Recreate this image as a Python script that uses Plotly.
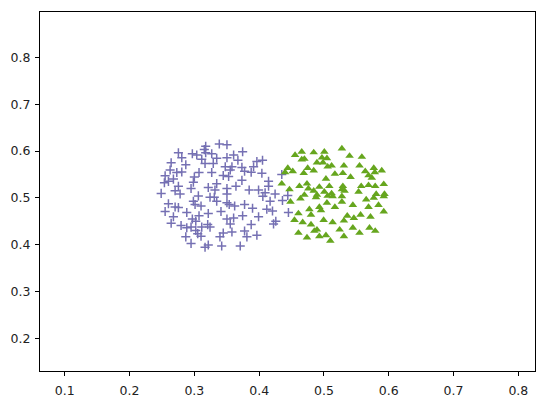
import plotly.graph_objects as go

# Purple "+" cluster
purple_x = [0.3385, 0.3175, 0.3154, 0.2754, 0.2969, 0.3037, 0.3175, 0.3268, 0.2806, 0.3114,
            0.3345, 0.2642, 0.2868, 0.3165, 0.3292, 0.2626, 0.2729, 0.2806, 0.3072, 0.3268,
            0.2549, 0.3000, 0.3446, 0.2677, 0.2600, 0.2538, 0.2985, 0.3345, 0.2754, 0.2949,
            0.3215, 0.3318, 0.2703, 0.2488, 0.2780, 0.3062,
            0.3503, 0.3745, 0.3606, 0.3503, 0.3672, 0.4052, 0.3965, 0.3477, 0.3580, 0.3734,
            0.3914, 0.3554, 0.3775, 0.3877, 0.4042, 0.3529, 0.3734, 0.4145, 0.4145, 0.3642,
            0.3503, 0.3846, 0.3991, 0.4092, 0.4246, 0.3503, 0.4349, 0.4442,
            0.3242, 0.3308, 0.3345, 0.2985, 0.2600, 0.2703, 0.2754, 0.3011, 0.3103, 0.2549,
            0.2883, 0.3411, 0.3215, 0.2677, 0.3072, 0.2969, 0.3022, 0.2642, 0.2795, 0.2883,
            0.2949, 0.3114, 0.3206, 0.3242, 0.3022, 0.3052, 0.3103, 0.3446, 0.3395, 0.2868,
            0.2949, 0.3215, 0.3165, 0.3422,
            0.4057, 0.4360, 0.4169, 0.3503, 0.3538, 0.3622, 0.3775, 0.3898, 0.4118, 0.4206,
            0.4452, 0.3745, 0.3991, 0.3606, 0.3503, 0.3554, 0.4257, 0.4222, 0.3877, 0.3775,
            0.3580, 0.3811, 0.3965, 0.3708]
purple_y = [0.6152, 0.6104, 0.6033, 0.5965, 0.5944, 0.5917, 0.5965, 0.5944, 0.5860, 0.5825,
            0.5846, 0.5750, 0.5708, 0.5735, 0.5735, 0.5596, 0.5542, 0.5554, 0.5542, 0.5542,
            0.5471, 0.5444, 0.5479, 0.5402, 0.5354, 0.5325, 0.5333, 0.5304, 0.5250, 0.5200,
            0.5221, 0.5167, 0.5152, 0.5096, 0.5083, 0.5042,
            0.6137, 0.5985, 0.5917, 0.5860, 0.5804, 0.5804, 0.5777, 0.5667, 0.5667, 0.5652,
            0.5667, 0.5596, 0.5569, 0.5548, 0.5527, 0.5458, 0.5375, 0.5354, 0.5250, 0.5250,
            0.5200, 0.5167, 0.5167, 0.5110, 0.5083, 0.5083, 0.5500, 0.5052,
            0.5013, 0.5013, 0.4929, 0.4929, 0.4875, 0.4804, 0.4792, 0.4860, 0.4825, 0.4708,
            0.4688, 0.4708, 0.4667, 0.4596, 0.4617, 0.4548, 0.4500, 0.4458, 0.4408, 0.4360,
            0.4375, 0.4375, 0.4429, 0.4375, 0.4304, 0.4235, 0.4179, 0.4250, 0.4167, 0.4167,
            0.4027, 0.3992, 0.3944, 0.3971,
            0.5033, 0.4944, 0.4929, 0.4896, 0.4860, 0.4825, 0.4860, 0.4777, 0.4756, 0.4721,
            0.4688, 0.4617, 0.4596, 0.4569, 0.4548, 0.4444, 0.4500, 0.4444, 0.4429, 0.4292,
            0.4271, 0.4167, 0.4200, 0.3971]

# Green triangle cluster
green_x = [0.4657, 0.4842, 0.5006, 0.4554, 0.4657, 0.4698, 0.4969, 0.5046, 0.4892, 0.4985,
           0.5057, 0.5118, 0.4442, 0.4749, 0.4842, 0.4400, 0.4518, 0.4688, 0.5169, 0.5031,
           0.4349, 0.4738, 0.4622, 0.4760, 0.4929, 0.5083, 0.4468, 0.4842, 0.5006, 0.5118,
           0.4698, 0.4892, 0.5057,
           0.5277, 0.5395, 0.5585, 0.5308, 0.5549, 0.5769, 0.5892, 0.5637, 0.5785, 0.5292,
           0.5411, 0.5688, 0.5738, 0.5575, 0.5688, 0.5791, 0.5923, 0.5292, 0.5277, 0.5318,
           0.5534, 0.5806, 0.5934,
           0.4637, 0.4877, 0.5134, 0.4483, 0.5046, 0.4775, 0.4929, 0.4954, 0.5169, 0.4606,
           0.4800, 0.4545, 0.4672, 0.4995, 0.5134, 0.4800, 0.4892, 0.4852, 0.4606, 0.5031,
           0.4929, 0.4738, 0.5098,
           0.5277, 0.5652, 0.5769, 0.5923, 0.5277, 0.5446, 0.5688, 0.5842, 0.5923, 0.5360,
           0.5462, 0.5565, 0.5718, 0.5308, 0.5446, 0.5703, 0.5242, 0.5791, 0.5549, 0.5308]
green_y = [0.5985, 0.5971, 0.5985, 0.5917, 0.5819, 0.5833, 0.5860, 0.5846, 0.5756, 0.5756,
           0.5667, 0.5688, 0.5637, 0.5637, 0.5583, 0.5548, 0.5569, 0.5527, 0.5513, 0.5408,
           0.5304, 0.5304, 0.5250, 0.5200, 0.5235, 0.5250, 0.5180, 0.5152, 0.5131, 0.5096,
           0.5062, 0.5062, 0.5042,
           0.6054, 0.5896, 0.5875, 0.5688, 0.5688, 0.5637, 0.5583, 0.5569, 0.5548, 0.5527,
           0.5444, 0.5479, 0.5429, 0.5250, 0.5271, 0.5250, 0.5292, 0.5250, 0.5180, 0.5152,
           0.5131, 0.5083, 0.5083,
           0.4985, 0.5013, 0.5033, 0.4917, 0.4896, 0.4756, 0.4804, 0.4735, 0.4804, 0.4667,
           0.4637, 0.4527, 0.4479, 0.4527, 0.4479, 0.4429, 0.4319, 0.4292, 0.4250, 0.4200,
           0.4179, 0.4152, 0.4083,
           0.5033, 0.4965, 0.5000, 0.5033, 0.4917, 0.4846, 0.4804, 0.4846, 0.4708, 0.4617,
           0.4569, 0.4637, 0.4596, 0.4513, 0.4360, 0.4360, 0.4319, 0.4292, 0.4250, 0.4179]

x_ticks = [0.1, 0.2, 0.3, 0.4, 0.5, 0.6, 0.7, 0.8]
y_ticks = [0.2, 0.3, 0.4, 0.5, 0.6, 0.7, 0.8]
x_range = [0.0618, 0.8257]
y_range = [0.1298, 0.8975]

PURPLE = "#7570b3"
GREEN = "#66a61e"

fig = go.Figure()
fig.add_trace(go.Scatter(
    x=purple_x, y=purple_y, mode="markers",
    marker=dict(symbol="cross-thin", size=6.5, color=PURPLE,
                line=dict(color=PURPLE, width=1.5)),
    showlegend=False, hoverinfo="skip"))
fig.add_trace(go.Scatter(
    x=green_x, y=green_y, mode="markers",
    marker=dict(symbol="triangle-up", size=7.5, color=GREEN,
                line=dict(width=0)),
    showlegend=False, hoverinfo="skip"))

axis_common = dict(
    showgrid=False, zeroline=False, showline=True, mirror=True,
    linecolor="black", linewidth=1, ticks="outside", ticklen=4,
    tickwidth=1, tickcolor="black",
    tickfont=dict(family="DejaVu Sans", size=12.5, color="#222222"),
)
fig.update_xaxes(range=x_range, tickvals=x_ticks, ticklabelstandoff=4,
                 ticktext=[f"{v:.1f}" for v in x_ticks], **axis_common)
fig.update_yaxes(range=y_range, tickvals=y_ticks, ticklabelstandoff=2,
                 ticktext=[f"{v:.1f}" for v in y_ticks], **axis_common)

fig.update_layout(
    width=547, height=409,
    margin=dict(l=40, r=11, t=11, b=30, pad=0),
    paper_bgcolor="white", plot_bgcolor="white",
    font=dict(family="DejaVu Sans", size=12.5, color="#222222"),
)

fig.write_html("out.html", config={"displayModeBar": False},
               post_script="document.body.style.margin='0';document.body.style.overflow='hidden';")
